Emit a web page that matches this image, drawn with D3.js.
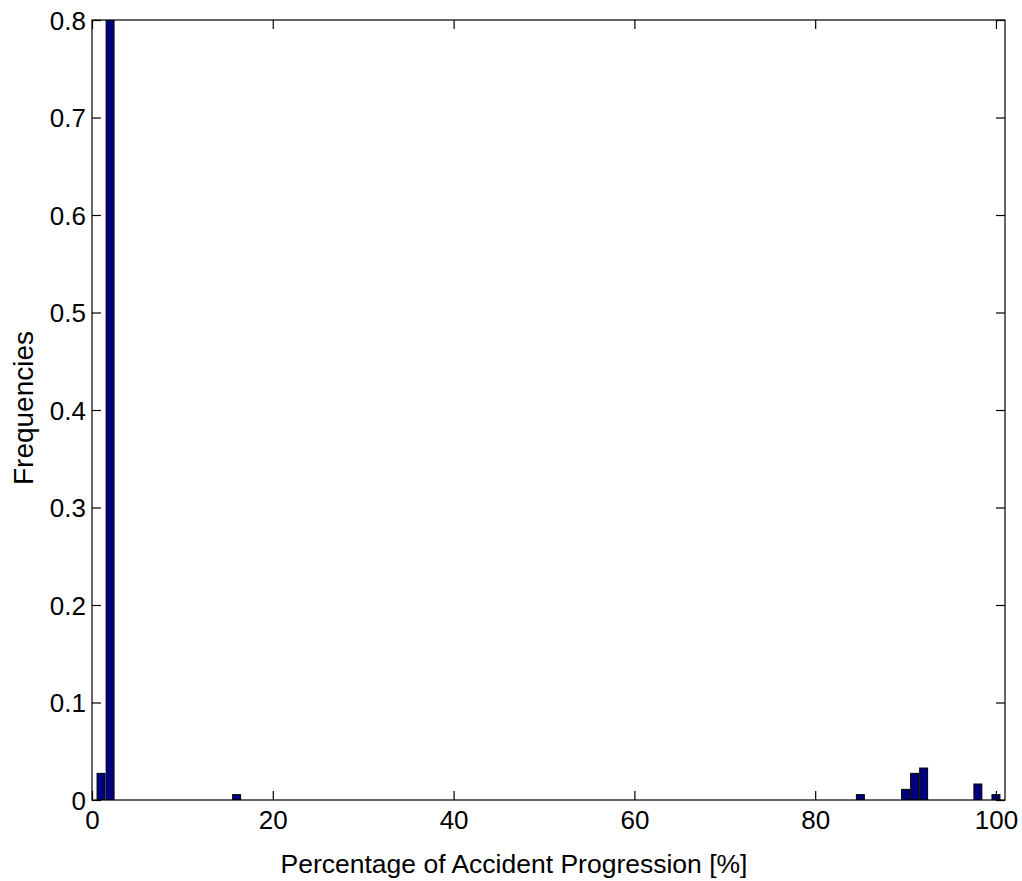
<!DOCTYPE html>
<html>
<head>
<meta charset="utf-8">
<script src="https://cdn.jsdelivr.net/npm/d3@7"></script>
<style>
  html, body { margin: 0; padding: 0; background: #fff; }
  svg { display: block; }
  text { font-family: Arial, "Liberation Sans", Helvetica, sans-serif; fill: #000; }
</style>
</head>
<body>
<svg id="chart" width="1022" height="881"></svg>
<script>
// Data
const binCenters = [1, 2, 16, 85, 90, 91, 92, 98, 100];
const frequencies = [0.0273, 0.869, 0.0055, 0.0055, 0.0109, 0.0273, 0.0328, 0.0164, 0.0055];
const xTicks = [0, 20, 40, 60, 80, 100];
const yTicks = [0, 0.1, 0.2, 0.3, 0.4, 0.5, 0.6, 0.7, 0.8];
const xDomain = [0, 101];
const yDomain = [0, 0.8];
const xLabel = "Percentage of Accident Progression [%]";
const yLabel = "Frequencies";
const barWidthUnits = 0.88;

(function () {
const svg = d3.select("#chart");
const mLeft = 92, mRight = 1005, mTop = 20, mBottom = 800;

const x = d3.scaleLinear().domain(xDomain).range([mLeft, mRight]);
const y = d3.scaleLinear().domain(yDomain).range([mBottom, mTop]);

svg.append("defs").append("clipPath").attr("id", "plotclip")
  .append("rect").attr("x", mLeft).attr("y", mTop).attr("width", mRight - mLeft).attr("height", mBottom - mTop);

const data = binCenters.map((c, i) => ({ c, v: frequencies[i] }));

svg.append("g").attr("clip-path", "url(#plotclip)")
  .selectAll("rect").data(data).enter().append("rect")
  .attr("x", d => x(d.c - barWidthUnits / 2))
  .attr("width", d => x(d.c + barWidthUnits / 2) - x(d.c - barWidthUnits / 2))
  .attr("y", d => y(d.v))
  .attr("height", d => y(0) - y(d.v))
  .attr("fill", "#000080")
  .attr("stroke", "#000")
  .attr("stroke-width", 1);

const tickLen = 9;
const gx = svg.append("g").attr("transform", `translate(0,${mBottom})`)
  .call(d3.axisBottom(x).tickValues(xTicks).tickSize(-tickLen).tickPadding(11).tickFormat(d3.format("d")));
const gxt = svg.append("g").attr("transform", `translate(0,${mTop})`)
  .call(d3.axisTop(x).tickValues(xTicks).tickSize(-tickLen).tickFormat(""));
const gy = svg.append("g").attr("transform", `translate(${mLeft},0)`)
  .call(d3.axisLeft(y).tickValues(yTicks).tickSize(-tickLen).tickPadding(6)
    .tickFormat(d => d === 0 ? "0" : d3.format(".1f")(d)));
const gyr = svg.append("g").attr("transform", `translate(${mRight},0)`)
  .call(d3.axisRight(y).tickValues(yTicks).tickSize(-tickLen).tickFormat(""));

[gx, gxt, gy, gyr].forEach(g => {
  g.select(".domain").remove();
  g.selectAll("line").attr("stroke", "#000").attr("stroke-width", 1.2);
  g.selectAll("text").attr("font-size", 26).attr("font-family", "Arial, 'Liberation Sans', sans-serif").attr("fill", "#000");
});
gy.selectAll("text").attr("dy", "0.35em");

svg.append("rect").attr("x", mLeft).attr("y", mTop).attr("width", mRight - mLeft).attr("height", mBottom - mTop)
  .attr("fill", "none").attr("stroke", "#000").attr("stroke-width", 1.2);

svg.append("text").attr("x", 514).attr("y", 873)
  .attr("text-anchor", "middle").attr("font-size", 26.5).text(xLabel);

svg.append("text").attr("transform", `translate(33,408) rotate(-90)`)
  .attr("text-anchor", "middle").attr("font-size", 28).text(yLabel);
})();
</script>
</body>
</html>
